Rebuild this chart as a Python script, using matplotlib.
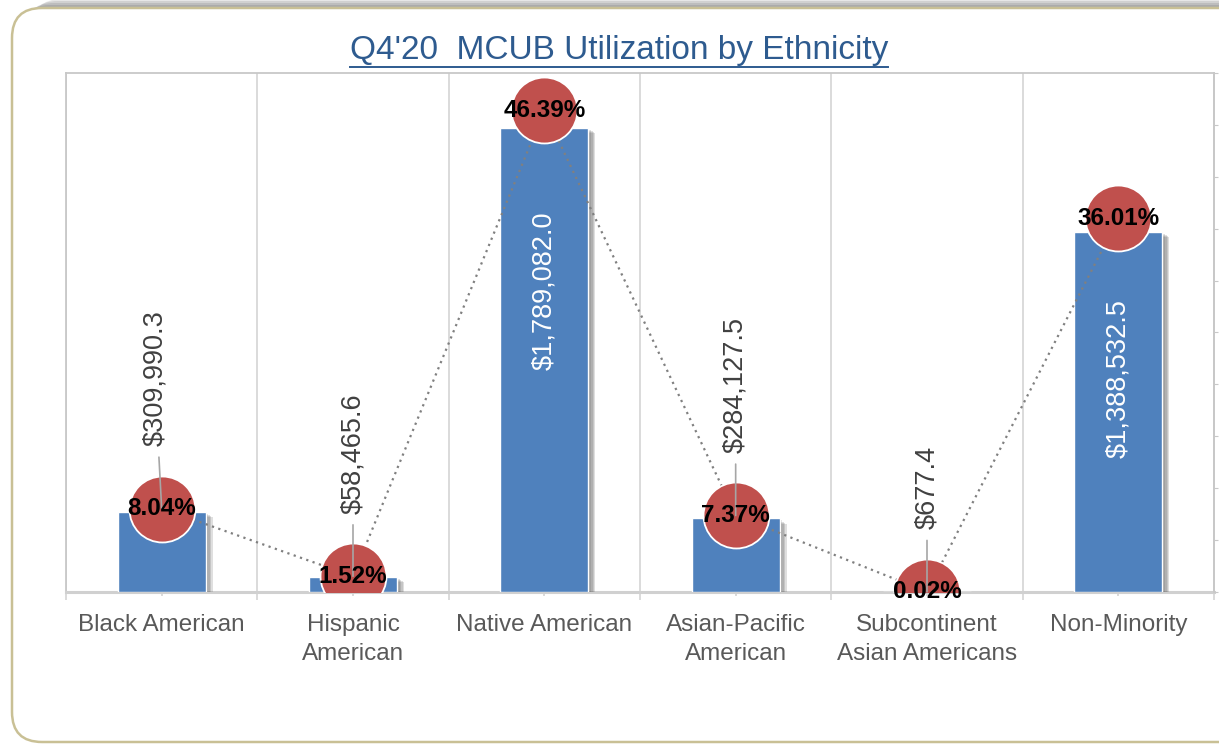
import matplotlib
matplotlib.use("Agg")
import matplotlib.pyplot as plt
import matplotlib.patheffects as pe
from matplotlib.patches import FancyBboxPatch
from matplotlib.lines import Line2D

plt.rcParams['font.family'] = ['Liberation Sans', 'DejaVu Sans']

# datos del gráfico
categorias = ["Black American", "Hispanic\nAmerican", "Native American",
              "Asian-Pacific\nAmerican", "Subcontinent\nAsian Americans", "Non-Minority"]
montos = [309990.3, 58465.6, 1789082.0, 284127.5, 677.4, 1388532.5]
porcentajes = [8.04, 1.52, 46.39, 7.37, 0.02, 36.01]
etiquetas_monto = ["$309,990.3", "$58,465.6", "$1,789,082.0", "$284,127.5", "$677.4", "$1,388,532.5"]
etiquetas_pct = ["8.04%", "1.52%", "46.39%", "7.37%", "0.02%", "36.01%"]

# colores
azul = '#4f81bd'
rojo = '#c0504d'
gris_txt = '#595959'
gris_rejilla = '#d4d4d4'

W, H = 1219, 744
fig = plt.figure(figsize=(W / 100, H / 100), dpi=100)
fig.patch.set_facecolor('white')

# marco redondeado con sombra arriba (en píxeles)
for k, a in [(9, 0.16), (7, 0.18), (5, 0.20), (3, 0.22), (1, 0.22)]:
    fig.patches.append(FancyBboxPatch((14 + k * 2, 2 + k), 1240, 742 - 8,
                                      boxstyle="round,pad=0,rounding_size=30",
                                      transform=None, facecolor='#6f6f6f', edgecolor='none',
                                      alpha=a, zorder=0))
fig.patches.append(FancyBboxPatch((12, 2), 1240, 742 - 8,
                                  boxstyle="round,pad=0,rounding_size=30",
                                  transform=None, facecolor='white', edgecolor='#c9c095',
                                  linewidth=1.8, zorder=1))

ax = fig.add_axes([66 / W, 1 - 592 / H, (1214 - 66) / W, (592 - 73) / H])
ax.set_zorder(2)
ax.patch.set_alpha(0)
x = list(range(len(categorias)))

# sombra difusa de las barras
sombra = [pe.SimplePatchShadow(offset=(o, -o * 0.8), shadow_rgbFace='#606060', alpha=0.2)
          for o in (5, 4, 3, 2)] + [pe.Normal()]
barras = ax.bar(x, montos, width=0.46, color=azul, edgecolor='white', linewidth=1,
                zorder=3)
for b in barras:
    b.set_path_effects(sombra)

ax.set_xlim(-0.5, len(categorias) - 0.5)
ax.set_ylim(0, 2000000)
ax.set_yticks([])

# rejilla vertical entre categorías
limites = [i - 0.5 for i in range(len(categorias) + 1)]
ax.set_xticks(limites)
ax.set_xticklabels([''] * len(limites))
ax.set_xticks(x, minor=True)
ax.set_xticklabels(categorias, minor=True, fontsize=17.5, color=gris_txt, linespacing=1.4)
ax.tick_params(axis='x', which='major', length=5.5, color=gris_rejilla, width=1.2)
ax.tick_params(axis='x', which='minor', length=3, color=gris_rejilla, width=1.2, pad=13)
ax.grid(axis='x', which='major', color=gris_rejilla, linewidth=1.2, zorder=0)
ax.set_axisbelow(True)
for lado in ['top', 'left', 'right']:
    ax.spines[lado].set_color('#c8c8c8')
    ax.spines[lado].set_linewidth(1.3)
ax.spines['bottom'].set_color('#d0d0d0')
ax.spines['bottom'].set_linewidth(2.2)

# eje secundario con los porcentajes
ax2 = ax.twinx()
ax2.set_ylim(0, 50)
ax2.set_yticks(range(0, 51, 5))
ax2.set_yticklabels([])
ax2.tick_params(axis='y', length=3, color='#c8c8c8')
ax2.spines['right'].set_color('#c8c8c8')
ax2.spines['right'].set_linewidth(1.3)
for lado in ['top', 'left', 'bottom']:
    ax2.spines[lado].set_visible(False)

ax2.plot(x, porcentajes, linestyle=(0, (1, 2)), color='#808080', linewidth=1.6,
         marker='o', markersize=47.5, markerfacecolor=rojo, markeredgecolor='white',
         markeredgewidth=1.3, zorder=4)

# etiquetas de montos: fuera para barras chicas, dentro (blanco) para las grandes
desplaz_dentro = {2: -73, 5: -58}
for i, (m, p, txt) in enumerate(zip(montos, porcentajes, etiquetas_monto)):
    if i in desplaz_dentro:
        ax2.annotate(txt, xy=(i, p), xytext=(0, desplaz_dentro[i]), textcoords='offset points',
                     rotation=90, ha='center', va='top', fontsize=19.5, color='white', zorder=6)
    else:
        dx = -5 if i == 0 else 0
        ax2.annotate(txt, xy=(i, p), xytext=(dx, 45), textcoords='offset points',
                     rotation=90, ha='center', va='bottom', fontsize=19.5, color='#404040',
                     zorder=6,
                     arrowprops=dict(arrowstyle='-', color='#a6a6a6', linewidth=1.2,
                                     shrinkA=6, shrinkB=0))

for i, (p, txt) in enumerate(zip(porcentajes, etiquetas_pct)):
    ax2.text(i, p, txt, ha='center', va='center', fontsize=17.5, fontweight='bold',
             color='black', zorder=7)

# título subrayado
titulo = fig.text(619 / W, 1 - 50 / H, "Q4'20  MCUB Utilization by Ethnicity",
                  ha='center', va='center', fontsize=24, color='#2e5b8f', zorder=5)
fig.canvas.draw()
bb = titulo.get_window_extent()
y_sub = bb.y0 - 1
fig.lines.append(Line2D([bb.x0, bb.x1], [y_sub, y_sub], transform=None,
                        color='#2e5b8f', linewidth=1.4, zorder=5))

fig.savefig('out.png', dpi=100)
